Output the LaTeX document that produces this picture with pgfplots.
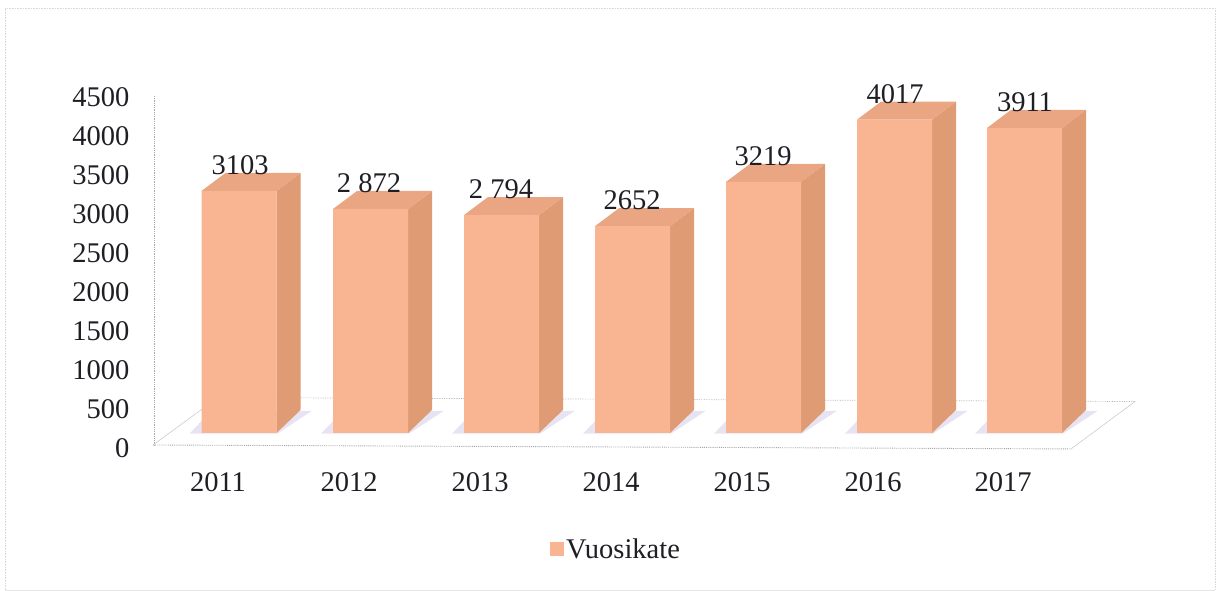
\documentclass[border=0pt]{standalone}
\usepackage{fontspec}
\setmainfont{Liberation Serif}
\usepackage{pgfplots}
\pgfplotsset{compat=1.18}
\definecolor{barfront}{HTML}{F9B592}
\definecolor{bartop}{HTML}{EAA682}
\definecolor{barside}{HTML}{DF9B73}
\definecolor{shadowc}{HTML}{E7E3F2}
\definecolor{inkc}{HTML}{1E1E24}
\newcommand{\chartfont}{\fontsize{28.5}{31}\selectfont}
\begin{document}
\begin{tikzpicture}
\path[use as bounding box] (0pt,0pt) rectangle (1216pt,591pt);
\draw[gray!30, line width=0.6pt, densely dotted] (5pt,1pt) -- (5pt,583pt) -- (1215pt,583pt) -- (1215pt,1pt);
\draw[gray!20, line width=0.6pt] (5pt,1pt) -- (1215pt,1pt);
% value axis
\begin{axis}[
  at={(154pt,145pt)}, anchor=south west, scale only axis, width=981pt, height=351pt,
  xmin=154, xmax=1135, ymin=0, ymax=4500, clip=false,
  axis x line=none, axis y line=left, axis line style={gray!70, densely dotted, line width=0.8pt, -},
  ytick={0,500,...,4500}, major tick length=0pt,
  yticklabel style={font=\chartfont, text=inkc, anchor=east, xshift=-21pt, yshift=-2pt},
  /pgf/number format/assume math mode=true, /pgf/number format/1000 sep={},
]
\draw[gray!70, densely dotted, line width=0.9pt] (axis cs:153,13) -- (axis cs:1071,-38);
\draw[gray!40, line width=0.6pt] (axis cs:153,13) -- (axis cs:218,622);
\draw[gray!40, line width=0.6pt] (axis cs:1071,-38) -- (axis cs:1135,570);
\draw[gray!60, densely dotted, line width=0.7pt] (axis cs:218,622) -- (axis cs:1135,570);
\end{axis}
% bars
\begin{axis}[
  at={(154pt,158pt)}, anchor=south west, scale only axis, width=981pt, height=351pt,
  xmin=154, xmax=1135, ymin=0, ymax=4500, clip=false,
  axis y line=none, axis x line=bottom, axis line style={draw=none},
  xtick={218,349,480,611,742,873,1003}, xticklabels={2011,2012,2013,2014,2015,2016,2017},
  major tick length=0pt,
  xticklabel style={font=\chartfont, text=inkc, anchor=center, yshift=-49pt},
  legend style={at={(axis cs:616,-1487)}, anchor=center, draw=none, fill=none,
    font=\chartfont, text=inkc, inner sep=0pt, /tikz/every even column/.style={column sep=0pt}},
  legend image code/.code={\fill[barfront] (0pt,-7pt) rectangle (14pt,7pt);},
]
% data labels, behind the bars
\addplot[forget plot, no marks, draw=none, nodes near coords, point meta=explicit symbolic,
  every node near coord/.style={font=\chartfont, text=inkc, anchor=center, yshift=26pt, inner sep=0pt}]
  coordinates {(240,3103)[3103] (369,2872)[2 872] (501,2794)[2 794] (632,2652)[2652]
               (763,3219)[3219] (895,4017)[4017] (1025,3911)[3911]};
% floor shadows
\addplot[forget plot, fill=shadowc, draw=none] coordinates {(189.5,-8)(277.5,-8)(312,285)(211.5,285)} -- cycle;
\addplot[forget plot, fill=shadowc, draw=none] coordinates {(321,-8)(409,-8)(444,285)(343,285)} -- cycle;
\addplot[forget plot, fill=shadowc, draw=none] coordinates {(452,-8)(540,-8)(575,285)(474,285)} -- cycle;
\addplot[forget plot, fill=shadowc, draw=none] coordinates {(583,-8)(671,-8)(706,285)(605,285)} -- cycle;
\addplot[forget plot, fill=shadowc, draw=none] coordinates {(714,-8)(802,-8)(837,285)(736,285)} -- cycle;
\addplot[forget plot, fill=shadowc, draw=none] coordinates {(845,-8)(933,-8)(968,285)(867,285)} -- cycle;
\addplot[forget plot, fill=shadowc, draw=none] coordinates {(975,-8)(1063,-8)(1098,285)(997,285)} -- cycle;
% side faces
\addplot[forget plot, fill=barside, draw=none] coordinates {(276.5,0)(300.5,295)(300.5,3334)(276.5,3103)} -- cycle;
\addplot[forget plot, fill=barside, draw=none] coordinates {(408,0)(432,295)(432,3103)(408,2872)} -- cycle;
\addplot[forget plot, fill=barside, draw=none] coordinates {(539,0)(563,295)(563,3025)(539,2794)} -- cycle;
\addplot[forget plot, fill=barside, draw=none] coordinates {(670,0)(694,295)(694,2883)(670,2652)} -- cycle;
\addplot[forget plot, fill=barside, draw=none] coordinates {(801,0)(825,295)(825,3450)(801,3219)} -- cycle;
\addplot[forget plot, fill=barside, draw=none] coordinates {(932,0)(956,295)(956,4248)(932,4017)} -- cycle;
\addplot[forget plot, fill=barside, draw=none] coordinates {(1062,0)(1086,295)(1086,4142)(1062,3911)} -- cycle;
% top faces
\addplot[forget plot, fill=bartop, draw=none] coordinates {(201.5,3103)(225.5,3334)(300.5,3334)(276.5,3103)} -- cycle;
\addplot[forget plot, fill=bartop, draw=none] coordinates {(333,2872)(357,3103)(432,3103)(408,2872)} -- cycle;
\addplot[forget plot, fill=bartop, draw=none] coordinates {(464,2794)(488,3025)(563,3025)(539,2794)} -- cycle;
\addplot[forget plot, fill=bartop, draw=none] coordinates {(595,2652)(619,2883)(694,2883)(670,2652)} -- cycle;
\addplot[forget plot, fill=bartop, draw=none] coordinates {(726,3219)(750,3450)(825,3450)(801,3219)} -- cycle;
\addplot[forget plot, fill=bartop, draw=none] coordinates {(857,4017)(881,4248)(956,4248)(932,4017)} -- cycle;
\addplot[forget plot, fill=bartop, draw=none] coordinates {(987,3911)(1011,4142)(1086,4142)(1062,3911)} -- cycle;
% front faces
\addplot[ybar, bar width=75pt, fill=barfront, draw=none]
  coordinates {(239,3103)(370.5,2872)(501.5,2794)(632.5,2652)(763.5,3219)(894.5,4017)(1024.5,3911)};
\addlegendentry{Vuosikate}
\end{axis}
\end{tikzpicture}
\end{document}
